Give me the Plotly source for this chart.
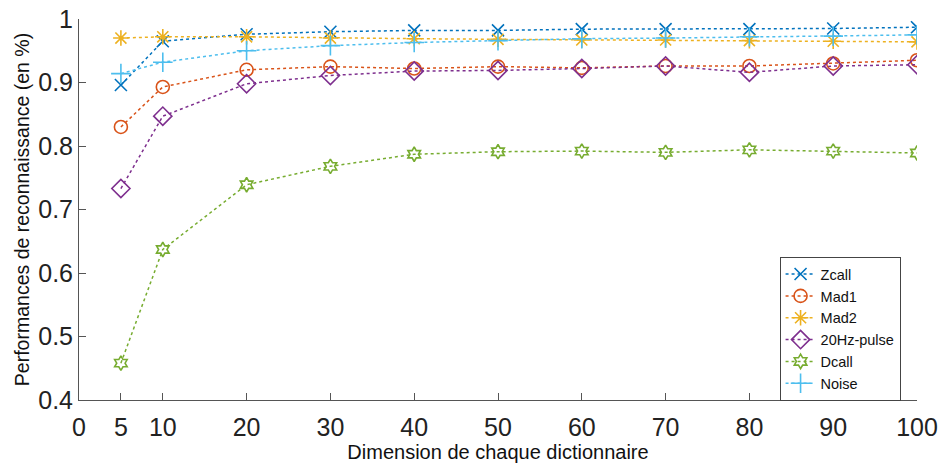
import plotly.graph_objects as go

dims = [5, 10, 20, 30, 40, 50, 60, 70, 80, 90, 100]
zcall = [0.896, 0.965, 0.976, 0.980, 0.982, 0.982, 0.984, 0.984, 0.984, 0.985, 0.987]
mad1 = [0.830, 0.893, 0.920, 0.925, 0.922, 0.925, 0.923, 0.926, 0.926, 0.930, 0.935]
mad2 = [0.970, 0.972, 0.972, 0.970, 0.969, 0.968, 0.967, 0.967, 0.966, 0.965, 0.964]
hz20 = [0.733, 0.847, 0.898, 0.911, 0.918, 0.919, 0.922, 0.926, 0.916, 0.926, 0.928]
dcall = [0.458, 0.637, 0.739, 0.768, 0.787, 0.791, 0.792, 0.790, 0.794, 0.792, 0.789]
noise = [0.914, 0.932, 0.950, 0.958, 0.963, 0.966, 0.969, 0.970, 0.972, 0.973, 0.975]

x_ticks = [0, 5, 10, 20, 30, 40, 50, 60, 70, 80, 90, 100]
y_ticks = [0.4, 0.5, 0.6, 0.7, 0.8, 0.9, 1.0]
y_labels = ["0.4", "0.5", "0.6", "0.7", "0.8", "0.9", "1"]

series = [
    ("Zcall", zcall, "#0072BD", "x-thin-open", 12),
    ("Mad1", mad1, "#D95319", "circle-open", 13),
    ("Mad2", mad2, "#EDB120", "asterisk-open", 13),
    ("20Hz-pulse", hz20, "#7E2F8E", "diamond-open", 14),
    ("Dcall", dcall, "#77AC30", "hexagram-open", 11),
    ("Noise", noise, "#4DBEEE", "cross-thin-open", 14),
]

fig = go.Figure()
for name, vals, col, sym, sz in series:
    fig.add_trace(go.Scatter(
        x=dims, y=vals, name=name, mode="lines+markers",
        line=dict(color=col, width=1.5, dash="dot"),
        marker=dict(symbol=sym, size=sz, color=col, line=dict(color=col, width=1.6)),
    ))

font = "Liberation Sans, Arial, Helvetica, sans-serif"
fig.update_layout(
    width=940, height=467,
    margin=dict(l=79, r=23, t=19, b=67),
    plot_bgcolor="white", paper_bgcolor="white",
    font=dict(family=font, color="#262626"),
    showlegend=True,
    legend=dict(
        x=0.836, y=0.375, xanchor="left", yanchor="top",
        bgcolor="white", bordercolor="#444", borderwidth=1,
        font=dict(size=14.5, family=font, color="#111"),
        tracegroupgap=0, itemwidth=30,
    ),
    xaxis=dict(
        range=[0, 100], tickvals=x_ticks, ticktext=[str(t) for t in x_ticks],
        automargin=False,
        showgrid=False, zeroline=False, showline=True, linecolor="#555", linewidth=1,
        ticks="inside", ticklen=7, tickcolor="#555",
        ticklabelstandoff=5,
        tickfont=dict(size=25, color="#222"),
        title=dict(text="Dimension de chaque dictionnaire", font=dict(size=20, color="#111"), standoff=3),
    ),
    yaxis=dict(
        range=[0.4, 1.0], tickvals=y_ticks, ticktext=y_labels,
        automargin=False,
        showgrid=False, zeroline=False, showline=True, linecolor="#555", linewidth=1,
        ticks="inside", ticklen=7, tickcolor="#555",
        tickfont=dict(size=25, color="#222"),
        title=dict(text="Performances de reconnaissance (en %)", font=dict(size=19.5, color="#111"), standoff=3),
    ),
)

fig.write_html(
    "out.html",
    config={"displayModeBar": False},
    post_script="document.body.style.margin='0';document.body.style.overflow='hidden';",
)
